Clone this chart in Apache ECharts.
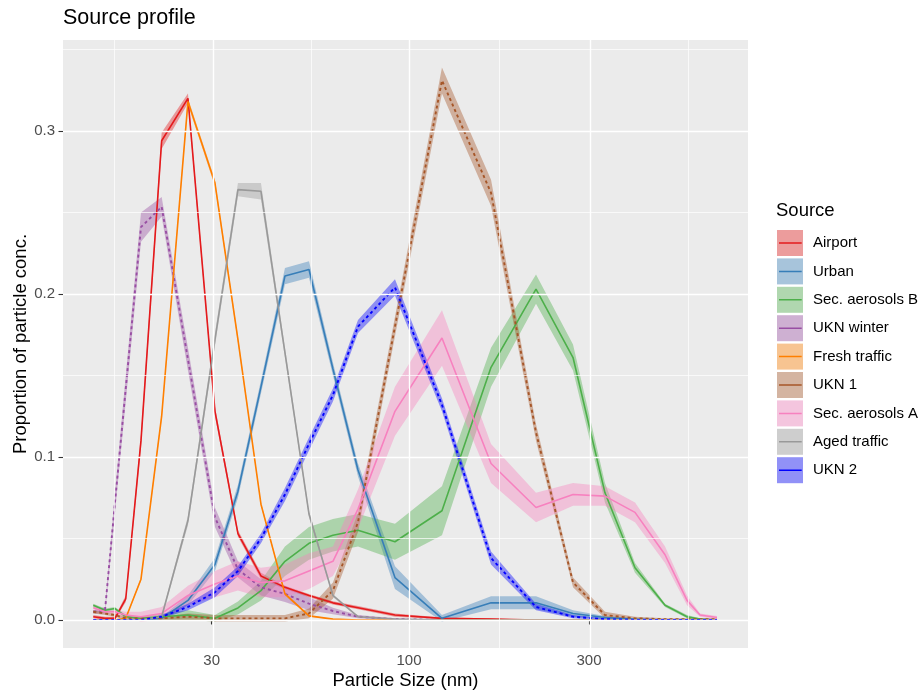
<!DOCTYPE html>
<html><head><meta charset="utf-8">
<script src="https://cdn.jsdelivr.net/npm/echarts@6/dist/echarts.min.js"></script>
<style>html,body{margin:0;padding:0;background:#fff}#c{width:919px;height:692px}</style>
</head><body><div id="c"></div>
<script>
// ---- data ----
const sizes = [14.57, 15.65, 16.63, 17.76, 19.49, 22.11, 25.96, 30.61, 35.22, 40.53, 46.92, 54.33, 62.88, 73.27, 91.81, 122.3, 165.0, 217.1, 272.1, 330.7, 397.2, 477.1, 545.6, 590.6, 655.2];
const sources = ['Airport', 'Urban', 'Sec. aerosols B', 'UKN winter', 'Fresh traffic', 'UKN 1', 'Sec. aerosols A', 'Aged traffic', 'UKN 2'];

const airport     = [0.002,0.001,0.001,0.013,0.110,0.294,0.320,0.128,0.053,0.027,0.020,0.015,0.0105,0.0075,0.003,0.001,0.0005,0,0,0,0,0,0,0,0];
const airportErr  = [0.001,0.001,0.001,0.002,0.004,0.005,0.003,0.003,0.002,0.002,0.001,0.001,0.001,0.001,0.001,0.0005,0.0005,0,0,0,0,0,0,0,0];
const urban       = [0,0,0,0,0,0.001,0.012,0.034,0.079,0.143,0.211,0.215,0.154,0.092,0.026,0.001,0.0105,0.0106,0.004,0.0015,0.0005,0,0,0,0];
const urbanErr    = [0,0,0,0,0,0.001,0.003,0.004,0.004,0.004,0.005,0.005,0.004,0.004,0.007,0.002,0.004,0.004,0.002,0.001,0.0005,0,0,0,0];
const secB        = [0.009,0.006,0.007,0.002,0.001,0.002,0.003,0.001,0.0074,0.018,0.036,0.047,0.052,0.055,0.048,0.067,0.155,0.203,0.161,0.078,0.032,0.009,0.002,0.0005,0];
const secBErr     = [0.001,0.001,0.001,0.001,0.001,0.002,0.003,0.002,0.004,0.006,0.009,0.010,0.010,0.010,0.011,0.015,0.012,0.009,0.008,0.006,0.003,0.001,0.001,0.0005,0];
const uknWinter   = [0.005,0.006,0.072,0.142,0.241,0.2535,0.160,0.063,0.031,0.020,0.016,0.010,0.0055,0.002,0.0005,0,0,0,0,0,0,0,0,0,0];
const uknWinterErr= [0.001,0.002,0.006,0.008,0.009,0.006,0.007,0.006,0.005,0.005,0.005,0.004,0.002,0.001,0.0005,0,0,0,0,0,0,0,0,0,0];
const fresh       = [0,0,0,0.001,0.025,0.125,0.318,0.268,0.172,0.071,0.016,0.0025,0.0005,0,0,0,0,0,0,0,0,0,0,0,0];
const freshErr    = [0,0,0,0.0005,0.001,0.002,0.002,0.002,0.002,0.001,0.001,0.0005,0,0,0,0,0,0,0,0,0,0,0,0,0];
const ukn1        = [0.005,0.004,0.003,0.001,0.001,0.001,0.002,0.001,0.001,0.001,0.001,0.004,0.018,0.060,0.180,0.331,0.262,0.115,0.023,0.003,0.001,0.0005,0.0005,0.0005,0.0005];
const ukn1Err     = [0.001,0.001,0.001,0.001,0.001,0.001,0.002,0.002,0.002,0.002,0.002,0.003,0.005,0.006,0.006,0.008,0.008,0.005,0.003,0.002,0.001,0.0005,0.0005,0.0005,0.0005];
const secA        = [0.0075,0.005,0.005,0.003,0.002,0.004,0.015,0.022,0.027,0.023,0.024,0.030,0.036,0.068,0.128,0.173,0.096,0.069,0.077,0.076,0.066,0.040,0.012,0.003,0.0015];
const secAErr     = [0.001,0.001,0.001,0.002,0.003,0.004,0.006,0.008,0.009,0.009,0.010,0.011,0.009,0.012,0.015,0.017,0.012,0.009,0.007,0.006,0.006,0.005,0.003,0.001,0.001];
const aged        = [0,0,0,0,0,0.002,0.061,0.172,0.264,0.263,0.164,0.065,0.015,0.002,0.0005,0,0,0,0,0,0,0,0,0,0];
const agedErr     = [0,0,0,0,0,0.001,0.003,0.004,0.004,0.005,0.003,0.002,0.001,0.0005,0,0,0,0,0,0,0,0,0,0,0];
const ukn2        = [0,0,0,0,0,0.002,0.008,0.017,0.030,0.050,0.077,0.108,0.138,0.180,0.204,0.132,0.038,0.008,0.002,0.0005,0,0,0,0,0];
const ukn2Err     = [0,0,0,0,0,0.001,0.002,0.003,0.003,0.003,0.004,0.004,0.004,0.004,0.005,0.004,0.004,0.002,0.001,0.0005,0,0,0,0,0];

const xTicks = [30, 100, 300];
const xMinor = [16.43, 54.77, 173.2, 547.7];
const yTicks = [0, 0.1, 0.2, 0.3];
const yMinor = [0.05, 0.15, 0.25, 0.35];
const xRange = [12.11, 791.5];
const yRange = [-0.0172, 0.3558];

// ---- styling ----
const values = [airport, urban, secB, uknWinter, fresh, ukn1, secA, aged, ukn2];
const errs = [airportErr, urbanErr, secBErr, uknWinterErr, freshErr, ukn1Err, secAErr, agedErr, ukn2Err];
const colors = ['#E41A1C', '#377EB8', '#4DAF4A', '#984EA3', '#FF7F00', '#A65628', '#F781BF', '#999999', '#0000FF'];
const dashed = [false, false, false, true, false, true, false, false, true];
const FONT = '"Liberation Sans", Arial, Helvetica, sans-serif';

function rgb(hex){ return [1,3,5].map(i => parseInt(hex.substr(i,2),16)); }
function rgba(hex, a){ const c = rgb(hex); return 'rgba(' + c.join(',') + ',' + a + ')'; }
function keyFill(hex){ const c = rgb(hex).map(v => Math.round(0.4*v + 0.6*242)); return 'rgb(' + c.join(',') + ')'; }
const lg = v => Math.log10(v);

const series = [];
// panel grid lines
const gl = [];
xMinor.forEach(v => gl.push({xAxis: lg(v), lineStyle: {color:'#fff', width:0.7, type:'solid'}}));
yMinor.forEach(v => gl.push({yAxis: v, lineStyle: {color:'#fff', width:0.7, type:'solid'}}));
xTicks.forEach(v => gl.push({xAxis: lg(v), lineStyle: {color:'#fff', width:1.4, type:'solid'}}));
yTicks.forEach(v => gl.push({yAxis: v, lineStyle: {color:'#fff', width:1.4, type:'solid'}}));
series.push({type:'line', data:[], silent:true, z:1,
  markLine:{silent:true, symbol:['none','none'], animation:false, label:{show:false}, emphasis:{disabled:true}, data: gl}});

// ribbons (one polygon per source, through the axes' coordinate mapping)
sources.forEach((s, i) => {
  const v = values[i], e = errs[i];
  const rib = sizes.map((x, j) => [lg(x), v[j] - e[j], v[j] + e[j]]);
  series.push({name:s, type:'custom', silent:true, z:2, clip:true,
    encode:{x:0, y:[1,2]},
    data: rib,
    renderItem: function(params, api){
      if (params.dataIndex !== 0) return null;
      const up = rib.map(r => api.coord([r[0], r[2]]));
      const dn = rib.map(r => api.coord([r[0], r[1]])).reverse();
      return {type:'polygon', shape:{points: up.concat(dn)}, style:{fill: rgba(colors[i], 0.4), stroke:null}};
    }});
});
// lines
sources.forEach((s, i) => {
  series.push({name:s, type:'line', silent:true, z:3,
    data: sizes.map((x, j) => [lg(x), values[i][j]]), showSymbol:false,
    itemStyle:{color: colors[i]},
    lineStyle:{color: colors[i], width: dashed[i] ? 1.9 : 1.6, type: dashed[i] ? [3, 3] : 'solid'}});
});

const barPath = 'path://M0,0L0.01,0L0,0.01Z M2,12.25H24.7V13.75H2Z M26,26L25.99,26L26,25.99Z';
const legendBase = {orient:'vertical', left:777, top:230, padding:0, itemWidth:26, itemHeight:26, itemGap:2.4, selectedMode:false};

const option = {
  animation:false,
  backgroundColor:'#fff',
  title:[
    {text:'Source profile', left:63, top:7, padding:0, textStyle:{fontSize:21.5, fontWeight:'normal', color:'#000', fontFamily:FONT}},
    {text:'Source', left:776, top:201, padding:0, textStyle:{fontSize:18.5, fontWeight:'normal', color:'#000', fontFamily:FONT}}
  ],
  grid:{left:63, right:171, top:40, bottom:44, show:true, backgroundColor:'#EBEBEB', borderWidth:0,
    containLabel:false, outerBoundsMode:'none'},
  xAxis:{type:'value', min:lg(xRange[0]), max:lg(xRange[1]),
    name:'Particle Size (nm)', nameLocation:'middle', nameGap:23, nameMoveOverlap:false,
    nameTextStyle:{fontSize:18.5, color:'#000', fontFamily:FONT},
    axisLine:{show:false}, splitLine:{show:false},
    axisTick:{show:true, length:4.5, lineStyle:{color:'#333333', width:1.1}, customValues: xTicks.map(lg)},
    axisLabel:{customValues: xTicks.map(lg), margin:5, fontSize:15, color:'#4D4D4D', fontFamily:FONT,
      formatter: v => String(Math.round(Math.pow(10, v)))}},
  yAxis:{type:'value', min:yRange[0], max:yRange[1],
    name:'Proportion of particle conc.', nameLocation:'middle', nameGap:33, nameMoveOverlap:false,
    nameTextStyle:{fontSize:18.5, color:'#000', fontFamily:FONT},
    axisLine:{show:false}, splitLine:{show:false},
    axisTick:{show:true, length:4.5, lineStyle:{color:'#333333', width:1.1}, customValues: yTicks},
    axisLabel:{customValues: yTicks, margin:8, fontSize:15, color:'#4D4D4D', fontFamily:FONT,
      formatter: v => v.toFixed(1)}},
  legend:[
    Object.assign({}, legendBase, {
      textStyle:{fontSize:15, color:'#000', fontFamily:FONT, padding:[0,0,0,5]},
      data: sources.map((s, i) => ({name:s, icon:'rect', itemStyle:{color:keyFill(colors[i]), opacity:1, borderWidth:0}}))}),
    Object.assign({}, legendBase, {
      textStyle:{fontSize:15, color:'rgba(0,0,0,0)', fontFamily:FONT, padding:[0,0,0,5]},
      data: sources.map((s, i) => ({name:s, icon:barPath, itemStyle:{color:colors[i], opacity:1, borderWidth:0}}))})
  ],
  series: series
};
const chart = echarts.init(document.getElementById('c'), null, {renderer:'canvas'});
chart.setOption(option);
</script>
</body></html>
